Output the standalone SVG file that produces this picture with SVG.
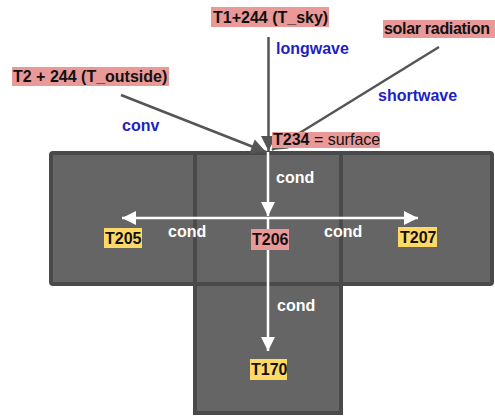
<svg xmlns="http://www.w3.org/2000/svg" width="495" height="416" viewBox="0 0 495 416">
<defs>
<style>
.box{fill:#656565;stroke:#4a4a4a;stroke-width:4}
.t{font-family:"Liberation Sans",Arial,sans-serif;font-size:16px;font-weight:bold}
.blk{fill:#111}
.blue{fill:#1f1fc4}
.wht{fill:#ffffff}
.pink{fill:#ea9999}
.yel{fill:#ffd966}
.gl{stroke:#555555;stroke-width:2.5;fill:none}
.wl{stroke:#ffffff;stroke-width:2.5;fill:none}
</style>
<marker id="ga" viewBox="0 0 10 10" refX="10" refY="5" markerUnits="userSpaceOnUse" markerWidth="18" markerHeight="15" orient="auto"><path d="M0,0 L10,5 L0,10 z" fill="#555555"/></marker>
<marker id="wa" viewBox="0 0 10 10" refX="10" refY="5" markerUnits="userSpaceOnUse" markerWidth="18" markerHeight="14" orient="auto"><path d="M0,0 L10,5 L0,10 z" fill="#ffffff"/></marker>
</defs>
<rect width="495" height="416" fill="#ffffff"/>
<g id="T205"><rect class="box" x="51" y="153" width="144" height="131" rx="2"/><rect class="yel" x="104" y="228" width="38" height="20"/><text class="t blk" x="105" y="244">T205</text></g>
<g id="T206"><rect class="box" x="195" y="153" width="146" height="131"/></g>
<g id="T207"><rect class="box" x="341" y="153" width="151" height="131" rx="2"/></g>
<g id="T170"><rect class="box" x="195" y="284" width="146" height="129"/></g>
<g id="connectors">
<line class="gl" x1="268.5" y1="37" x2="268.5" y2="151" marker-end="url(#ga)"/>
<line class="gl" x1="121" y1="95" x2="266" y2="152" marker-end="url(#ga)"/>
<line class="gl" x1="439" y1="47" x2="272" y2="150" marker-end="url(#ga)"/>
<line class="wl" x1="268" y1="152" x2="268" y2="216" marker-end="url(#wa)"/>
<line class="wl" x1="268" y1="218" x2="268" y2="351" marker-end="url(#wa)"/>
<line class="wl" x1="268" y1="218" x2="122" y2="218" marker-end="url(#wa)"/>
<line class="wl" x1="268" y1="218" x2="418" y2="218" marker-end="url(#wa)"/>
</g>
<g id="T1_sky"><rect class="pink" x="211" y="7" width="118" height="20"/><text class="t blk" x="213" y="23">T1+244 (T_sky)</text></g>
<g id="solar"><rect class="pink" x="383" y="20" width="112" height="18"/><text class="t blk" x="384" y="34" textLength="106">solar radiation</text></g>
<g id="T2_outside"><rect class="pink" x="12" y="67" width="157" height="19"/><text class="t blk" x="13" y="82">T2 + 244 (T_outside)</text></g>
<g id="T234"><rect class="pink" x="272" y="132" width="108" height="16"/><text class="t blk" x="273" y="145">T234<tspan font-weight="normal"> = surface</tspan></text></g>
<text class="t blue" x="276" y="54">longwave</text>
<text class="t blue" x="378" y="101">shortwave</text>
<text class="t blue" x="122" y="131">conv</text>
<text class="t wht" x="276" y="183">cond</text>
<text class="t wht" x="168" y="237">cond</text>
<text class="t wht" x="324" y="237">cond</text>
<text class="t wht" x="277" y="311">cond</text>
<g id="T206lbl"><rect class="pink" x="251" y="229" width="38" height="21"/><text class="t blk" x="252" y="245">T206</text></g>
<g id="T207lbl"><rect class="yel" x="398" y="227" width="39" height="20"/><text class="t blk" x="400" y="243">T207</text></g>
<g id="T170lbl"><rect class="yel" x="250" y="359" width="37" height="21"/><text class="t blk" x="251" y="375">T170</text></g>
</svg>
